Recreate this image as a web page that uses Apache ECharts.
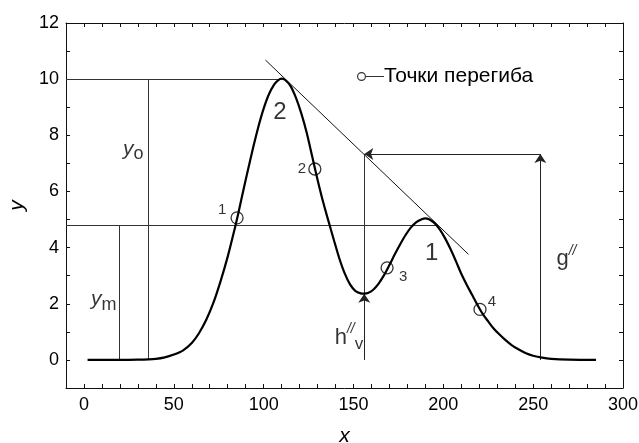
<!DOCTYPE html>
<html><head><meta charset="utf-8">
<script src="https://cdn.jsdelivr.net/npm/echarts@6/dist/echarts.min.js"></script>
<style>html,body{margin:0;padding:0;background:#fff}#c{width:639px;height:443px}</style>
</head><body><div id="c"></div>
<script>
// ---- data ----
const curveX = [2,20,30,40,45,50,55,60,64,68,72,76,80,84,86,88,91,94,97,100,103,106,108,110,112,115,118,121,124,127,130,133,136,139,142,145,148,151,154,156,158,161,164,167,170,173,176,179,182,185,188,190,192,195,198,201,204,207,210,213,216,219,222,225,228,231,234,238,242,246,250,255,260,270,285];
const curveY = [0,0,0.01,0.04,0.09,0.19,0.33,0.6,0.95,1.42,2.03,2.8,3.68,4.7,5.25,5.84,6.69,7.52,8.29,8.95,9.47,9.82,9.96,10.02,9.97,9.75,9.33,8.77,8.08,7.25,6.42,5.65,4.96,4.29,3.64,3.1,2.7,2.46,2.37,2.36,2.38,2.5,2.72,3.02,3.38,3.76,4.12,4.45,4.72,4.91,5.01,5.04,5.01,4.88,4.65,4.33,3.95,3.52,3.07,2.68,2.32,1.96,1.63,1.37,1.12,0.92,0.74,0.53,0.37,0.24,0.15,0.08,0.04,0.01,0];
const inflectionX = [85.2,128.5,168.7,220.4];
const inflectionY = [5.06,6.8,3.28,1.8];
const inflectionNames = ['1','2','3','4'];
const tangentX = [101,214];
const tangentY = [10.68,3.76];
const xLabelValues = [0,50,100,150,200,250,300];
const yLabelValues = [0,2,4,6,8,10,12];
const xTickValues = [0,10,20,30,40,50,60,70,80,90,100,110,120,130,140,150,160,170,180,190,200,210,220,230,240,250,260,270,280,290];
const yTickValues = [0,1,2,3,4,5,6,7,8,9,10,11];
const X_MIN = -10, X_MAX = 300, Y_MIN = -1, Y_MAX = 12;
// guide segments [x1,y1,x2,y2]
const guideLines = [[-10,10,110,10],[-10,4.8,197,4.8],[19.5,0,19.5,4.8],[36,0,36,10],[156,2.36,156,7.33]];
const arrowLines = [[156,0,156,2.36],[254,0,254,7.33],[254,7.33,156,7.33]];
const legendName = 'Точки перегиба';

const FONT = "'Liberation Sans', Arial, sans-serif";
const W = 639, H = 443;
const GRID = {left:66, right:16, top:23, bottom:55};
const chart = echarts.init(document.getElementById('c'), null, {renderer:'canvas', width:W, height:H});

const ringLine = 'path://M4.5,0 A4.5,4.5 0 1 1 4.5,9 A4.5,4.5 0 1 1 4.5,0 Z M4.5,1.2 A3.3,3.3 0 1 0 4.5,7.8 A3.3,3.3 0 1 0 4.5,1.2 Z M9,4 L27,4 L27,5 L9,5 Z';

const labelPos = {'1':[-15,-8],'2':[-13,0],'3':[16,9],'4':[12,-8]};

// tick length (px) expressed in axis units
const TICK = 4;
const tx = TICK * (X_MAX - X_MIN) / (W - GRID.left - GRID.right);
const ty = TICK * (Y_MAX - Y_MIN) / (H - GRID.top - GRID.bottom);
const tickSegs = [];
xTickValues.forEach(v=>{ tickSegs.push([v,Y_MIN,v,Y_MIN+ty]); tickSegs.push([v,Y_MAX,v,Y_MAX-ty]); });
yTickValues.forEach(v=>{ tickSegs.push([X_MIN,v,X_MIN+tx,v]); tickSegs.push([X_MAX,v,X_MAX-tx,v]); });

const ax = {
  type:'value', splitLine:{show:false},
  axisLine:{show:true, onZero:false, lineStyle:{color:'#111', width:1}},
  axisTick:{show:false},
};

const annotations = [
  {value:[109,8.8], label:{formatter:'{b|2}'}},
  {value:[193.5,3.8], label:{formatter:'{b|1}'}},
  {value:[27.5,7.5], label:{formatter:'{i|y}{s|o}'}},
  {value:[11,2.15], label:{formatter:'{i|y}{s|m}'}},
  {value:[147.5,0.8], label:{formatter:'{n|h}{p|//}{v|v}'}},
  {value:[268.5,3.6], label:{formatter:'{n|g}{p|//}'}}
];

const segLine = (segs)=>segs.map(s=>[{coord:[s[0],s[1]]},{coord:[s[2],s[3]]}]);

const option = {
  animation:false,
  backgroundColor:'#fff',
  textStyle:{fontFamily:FONT},
  grid:Object.assign({outerBoundsMode:'none', containLabel:false}, GRID),
  legend:{
    data:[{name:legendName, icon:ringLine}],
    left:352, top:61, itemWidth:27, itemHeight:9, selectedMode:false,
    itemStyle:{color:'#000', borderWidth:0},
    textStyle:{fontSize:21, color:'#000', fontFamily:FONT, padding:[0,0,0,-5]}
  },
  xAxis:[
    Object.assign({}, ax, {min:X_MIN, max:X_MAX, interval:10, position:'bottom',
      axisLabel:{formatter:v=>xLabelValues.includes(v)?String(v):'', fontSize:18, color:'#000', margin:8, fontFamily:FONT, showMinLabel:true, showMaxLabel:true},
      name:'x', nameLocation:'middle', nameGap:38,
      nameTextStyle:{fontStyle:'italic', fontSize:21, color:'#000', fontFamily:FONT}}),
    Object.assign({}, ax, {min:X_MIN, max:X_MAX, interval:10, position:'top',
      axisLabel:{show:false}})
  ],
  yAxis:[
    Object.assign({}, ax, {min:Y_MIN, max:Y_MAX, interval:1, position:'left',
      axisLabel:{formatter:v=>yLabelValues.includes(v)?String(v):'', fontSize:18, color:'#000', margin:7, fontFamily:FONT},
      name:'y', nameLocation:'middle', nameGap:38, nameRotate:90,
      nameTextStyle:{fontStyle:'italic', fontSize:21, color:'#000', fontFamily:FONT}}),
    Object.assign({}, ax, {min:Y_MIN, max:Y_MAX, interval:1, position:'right',
      axisLabel:{show:false}})
  ],
  series:[
    {
      name:'ticks', type:'line', data:[], silent:true,
      markLine:{silent:true, symbol:['none','none'], animation:false,
        label:{show:false}, lineStyle:{color:'#111', width:1, type:'solid'},
        emphasis:{disabled:true},
        data: segLine(tickSegs)}
    },
    {
      name:'guides', type:'line', data:[], silent:true,
      markLine:{silent:true, symbol:['none','none'], animation:false,
        label:{show:false}, lineStyle:{color:'#333', width:1, type:'solid'},
        emphasis:{disabled:true},
        data: segLine(guideLines)}
    },
    {
      name:'arrows', type:'line', data:[], silent:true,
      markLine:{silent:true, symbol:['none','arrow'], symbolSize:9, animation:false,
        label:{show:false}, lineStyle:{color:'#222', width:1, type:'solid'},
        itemStyle:{color:'#222'},
        emphasis:{disabled:true},
        data: segLine(arrowLines)}
    },
    {
      name:'tangent', type:'line', silent:true, showSymbol:false,
      data: tangentX.map((x,i)=>[x,tangentY[i]]),
      lineStyle:{color:'#111', width:1}
    },
    {
      name:'curve', type:'line', smooth:0.3, showSymbol:false, silent:true,
      data: curveX.map((x,i)=>[x,curveY[i]]),
      lineStyle:{color:'#000', width:2.2}, z:5
    },
    {
      name:legendName, type:'scatter', symbol:'circle', symbolSize:12, z:6,
      itemStyle:{color:'rgba(0,0,0,0)', borderColor:'#000', borderWidth:1.3},
      data: inflectionX.map((x,i)=>({value:[x,inflectionY[i]], name:inflectionNames[i],
        label:{show:true, position:'inside', offset:labelPos[inflectionNames[i]], formatter:'{b}',
          fontSize:15, color:'#000', fontFamily:FONT}}))
    },
    {
      name:'annotations', type:'scatter', symbolSize:0, silent:true, z:7,
      label:{show:true, position:'inside', color:'#000', fontFamily:FONT,
        rich:{
          b:{fontSize:24, color:'#000', fontFamily:FONT},
          i:{fontSize:21, fontStyle:'italic', color:'#000', fontFamily:FONT, lineHeight:28, verticalAlign:'middle'},
          s:{fontSize:18, color:'#000', fontFamily:FONT, lineHeight:18, verticalAlign:'bottom'},
          n:{fontSize:22, color:'#000', fontFamily:FONT, lineHeight:30, verticalAlign:'middle'},
          p:{fontSize:14, color:'#000', fontFamily:FONT, fontStyle:'italic', lineHeight:14, verticalAlign:'top'},
          v:{fontSize:17, color:'#000', fontFamily:FONT, lineHeight:17, verticalAlign:'bottom'}
        }},
      data: annotations
    }
  ]
};
chart.setOption(option);
</script></body></html>
